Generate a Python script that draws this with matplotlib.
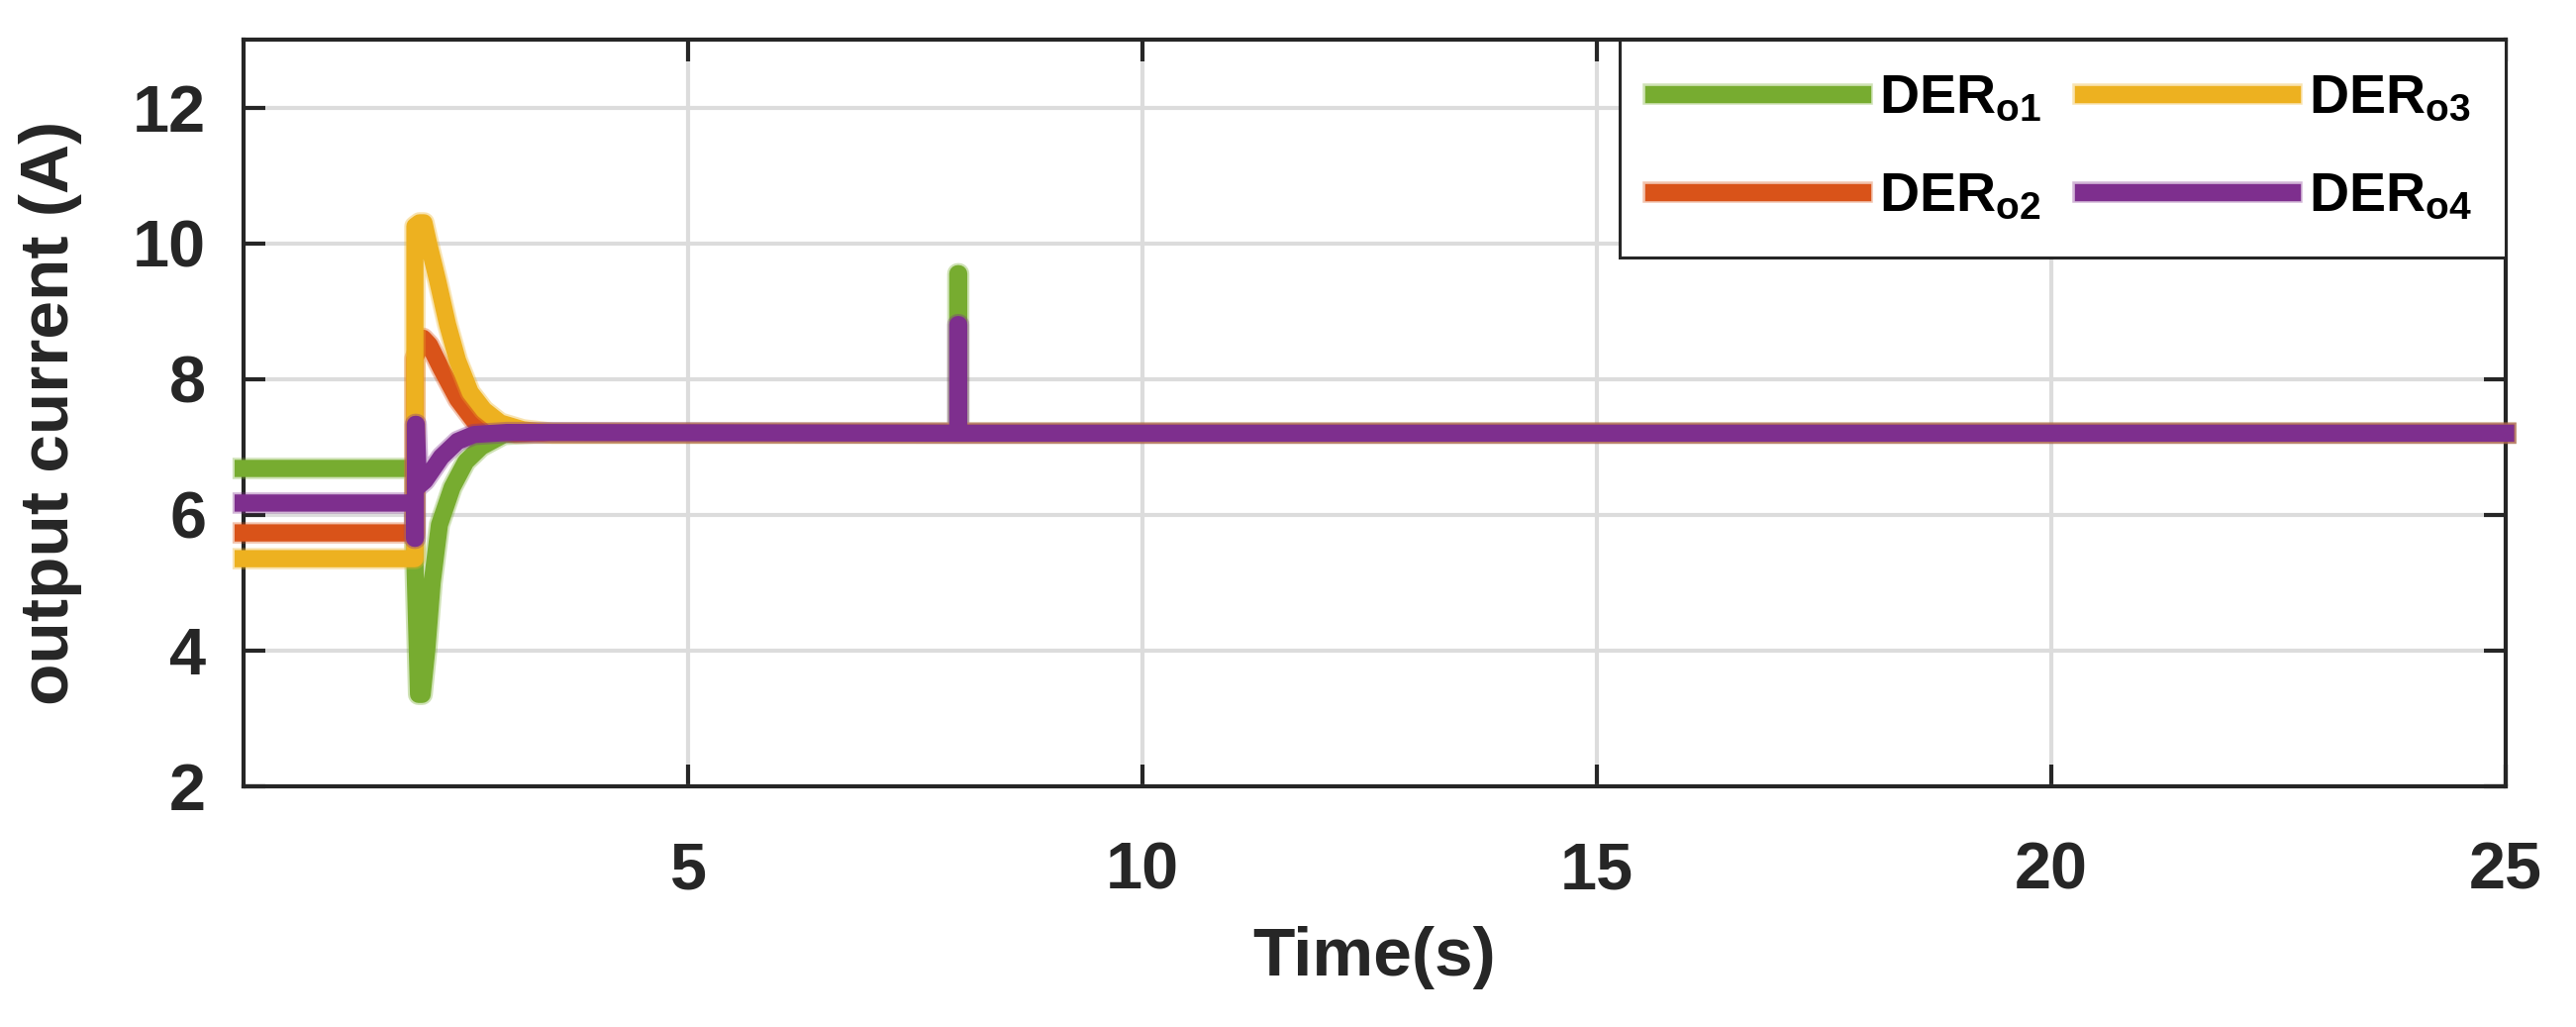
import matplotlib
matplotlib.use("Agg")
import matplotlib.pyplot as plt
import matplotlib.patheffects as pe

plt.rcParams['font.family'] = ['Liberation Sans', 'DejaVu Sans']
plt.rcParams['font.weight'] = 'bold'
plt.rcParams['mathtext.fontset'] = 'custom'
plt.rcParams['mathtext.rm'] = 'Liberation Sans:bold'
plt.rcParams['mathtext.bf'] = 'Liberation Sans:bold'
plt.rcParams['mathtext.it'] = 'Liberation Sans:bold'

# ---- data ----
labels = [r'$\mathbf{DER_{o1}}$', r'$\mathbf{DER_{o2}}$', r'$\mathbf{DER_{o3}}$', r'$\mathbf{DER_{o4}}$']
colors = ['#77AC30', '#D95319', '#EDB120', '#7E2F8E']

t_o1 = [0.1, 1.99, 1.99, 2.03, 2.07, 2.12, 2.18, 2.26, 2.40, 2.55, 2.72, 2.97, 3.3, 7.965, 7.965, 7.975, 7.975, 25.0]
i_o1 = [6.68, 6.68, 5.3, 3.35, 3.35, 4.0, 5.0, 5.85, 6.4, 6.78, 7.0, 7.18, 7.2, 7.2, 9.55, 9.55, 7.2, 7.2]

t_o2 = [0.1, 1.99, 1.99, 2.08, 2.15, 2.28, 2.46, 2.64, 2.82, 3.1, 25.0]
i_o2 = [5.73, 5.73, 8.3, 8.6, 8.5, 8.15, 7.7, 7.38, 7.27, 7.2, 7.2]

t_o3 = [0.1, 1.99, 1.99, 2.04, 2.09, 2.14, 2.24, 2.35, 2.46, 2.60, 2.75, 2.93, 3.18, 3.5, 25.0]
i_o3 = [5.35, 5.35, 10.25, 10.3, 10.3, 10.0, 9.45, 8.8, 8.27, 7.8, 7.54, 7.35, 7.25, 7.2, 7.2]

t_o4 = [0.1, 1.985, 1.985, 1.995, 1.995, 2.005, 2.03, 2.1, 2.28, 2.46, 2.64, 3.0, 7.965, 7.965, 7.975, 7.975, 25.0]
i_o4 = [6.17, 6.17, 5.65, 5.65, 7.33, 7.33, 6.42, 6.5, 6.85, 7.08, 7.18, 7.21, 7.2, 8.8, 8.8, 7.2, 7.2]

series_t = [t_o1, t_o2, t_o3, t_o4]
series_i = [i_o1, i_o2, i_o3, i_o4]

x_ticks = [5, 10, 15, 20, 25]
y_ticks = [2, 4, 6, 8, 10, 12]

# ---- figure ----
fig = plt.figure(figsize=(26.02, 10.37), dpi=100)
ax = fig.add_axes([0.0944, 0.2347, 0.8783, 0.7267])

lw = 12.5
for t, v, c, lab in zip(series_t, series_i, colors, labels):
    ax.plot(t, v, color=c, lw=lw, label=lab, clip_on=False, zorder=3,
            solid_joinstyle='round', solid_capstyle='projecting',
            path_effects=[pe.Stroke(linewidth=lw + 3, foreground=c, alpha=0.35), pe.Normal()])

ax.set_xlim(0.1, 25)
ax.set_ylim(2, 13)
ax.set_xticks(x_ticks)
ax.set_yticks(y_ticks)
ax.grid(True, color='#dcdcdc', lw=3, zorder=0)
ax.set_axisbelow(True)

for s in ax.spines.values():
    s.set_linewidth(3)
    s.set_color('#262626')
    s.set_zorder(2.5)

ax.tick_params(axis='both', direction='in', length=16, width=3, color='#262626',
               top=True, right=True, labelsize=48, labelcolor='#262626')
ax.tick_params(axis='y', pad=27)
ax.tick_params(axis='x', pad=40)
for lbl in ax.get_xticklabels() + ax.get_yticklabels():
    lbl.set_fontweight('bold')

ax.set_xlabel('Time(s)', fontsize=50, fontweight='bold', color='#262626', va='baseline')
ax.xaxis.set_label_coords(0.5, -0.254)
ax.set_ylabel('output current (A)', fontsize=50, fontweight='bold', color='#262626', va='center')
ax.yaxis.set_label_coords(-0.0851, 0.5)

leg = ax.legend(loc='upper right', bbox_to_anchor=(2531 / 2602, 1 - 40 / 1037),
                bbox_transform=fig.transFigure, borderaxespad=0, ncol=2,
                prop={'family': 'Liberation Sans', 'weight': 'bold', 'size': 40},
                handlelength=3.8, handletextpad=0.3, columnspacing=0.75,
                labelspacing=0.85, borderpad=0.62, fancybox=False, framealpha=1,
                edgecolor='#262626')
leg.get_frame().set_linewidth(2.2)
leg.set_zorder(5)
for h in leg.get_lines():
    h.set_linewidth(lw)
    h.set_path_effects([pe.Stroke(linewidth=lw + 3, foreground=h.get_color(), alpha=0.35), pe.Normal()])

fig.savefig('out.png', dpi=100)
